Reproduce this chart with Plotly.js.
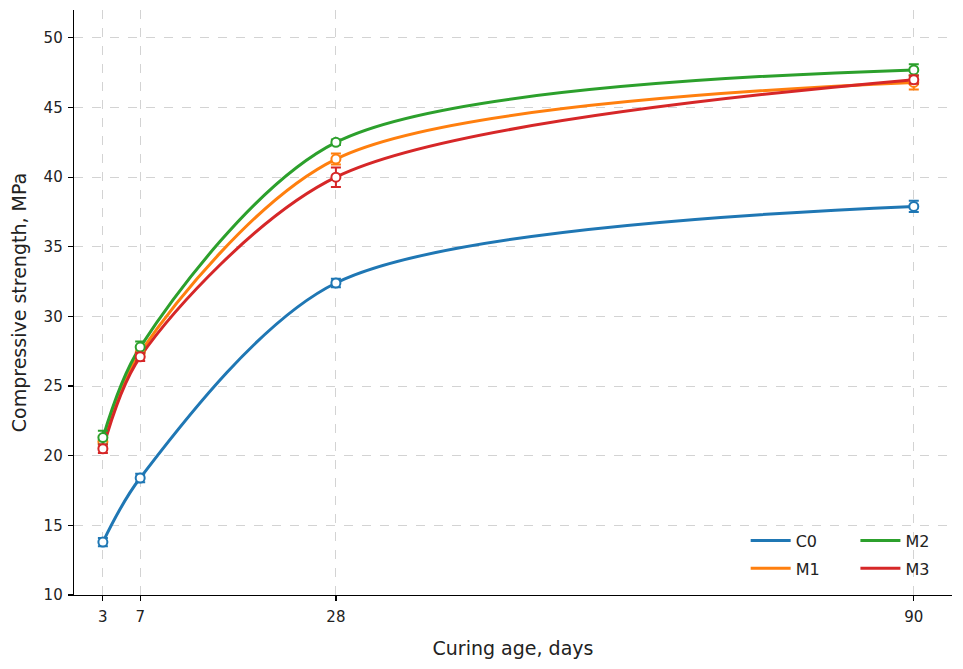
<!DOCTYPE html>
<html>
<head>
<meta charset="utf-8">
<script src="https://cdn.plot.ly/plotly-3.0.1.min.js"></script>
<style>html,body{margin:0;padding:0;background:#fff;}#chart{width:963px;height:669px;}</style>
</head>
<body>
<div id="chart"></div>
<script>
const ages = [3, 7, 28, 90];
const seriesNames = ["C0", "M1", "M2", "M3"];
const C0 = [13.8, 18.4, 32.4, 37.9];
const M1 = [21.0, 27.4, 41.3, 46.8];
const M2 = [21.3, 27.8, 42.5, 47.7];
const M3 = [20.5, 27.1, 40.0, 47.0];
const C0_err = [0.3, 0.3, 0.3, 0.4];
const M1_err = [0.4, 0.3, 0.4, 0.5];
const M2_err = [0.5, 0.4, 0.2, 0.4];
const M3_err = [0.3, 0.3, 0.7, 0.3];
const colors = ["#1f77b4", "#ff7f0e", "#2ca02c", "#d62728"];
const legendOf = ["legend", "legend", "legend2", "legend2"];

const values = [C0, M1, M2, M3];
const errs = [C0_err, M1_err, M2_err, M3_err];
const traces = [];
values.forEach((v, i) => {
  traces.push({
    x: ages, y: v, name: seriesNames[i], type: "scatter", mode: "lines",
    line: {color: colors[i], width: 3, shape: "spline", smoothing: 0.85},
    legend: legendOf[i], legendgroup: seriesNames[i], hoverinfo: "skip"
  });
});
values.forEach((v, i) => {
  traces.push({
    x: ages, y: v, type: "scatter", mode: "markers", showlegend: false,
    marker: {color: "#ffffff", size: 9, line: {color: colors[i], width: 2}},
    error_y: {type: "data", array: errs[i], visible: true, color: colors[i], thickness: 2, width: 5}
  });
});

const font = {family: "DejaVu Sans, sans-serif", color: "#222"};
const layout = {
  width: 963, height: 669,
  margin: {l: 74, r: 11, t: 10, b: 74},
  paper_bgcolor: "#fff", plot_bgcolor: "#fff",
  font: font,
  showlegend: true,
  xaxis: {
    range: [-0.1, 94.1], tickvals: ages, ticktext: ages.map(String),
    showgrid: true, gridcolor: "#d3d3d3", griddash: "dash", gridwidth: 1,
    zeroline: false, showline: true, linecolor: "#000", linewidth: 1.3,
    ticks: "outside", ticklen: 5, tickcolor: "#000", tickwidth: 1.2,
    ticklabelstandoff: 3,
    tickfont: {size: 15, family: font.family, color: "#222"},
    title: {text: "Curing age, days", font: {size: 19, family: font.family, color: "#222"}, standoff: 16}
  },
  yaxis: {
    range: [10, 52], tickvals: [10, 15, 20, 25, 30, 35, 40, 45, 50],
    showgrid: true, gridcolor: "#d3d3d3", griddash: "dash", gridwidth: 1,
    zeroline: false, showline: true, linecolor: "#000", linewidth: 1.3,
    ticks: "outside", ticklen: 5, tickcolor: "#000", tickwidth: 1.2,
    ticklabelstandoff: 2,
    tickfont: {size: 15, family: font.family, color: "#222"},
    title: {text: "Compressive strength, MPa", font: {size: 19, family: font.family, color: "#222"}, standoff: 12}
  },
  legend: {
    x: 0.765, y: 0.122, xanchor: "left", yanchor: "top",
    bgcolor: "rgba(255,255,255,0)", font: {size: 16, family: font.family, color: "#222"},
    tracegroupgap: 4, itemwidth: 40
  },
  legend2: {
    x: 0.89, y: 0.122, xanchor: "left", yanchor: "top",
    bgcolor: "rgba(255,255,255,0)", font: {size: 16, family: font.family, color: "#222"},
    tracegroupgap: 4, itemwidth: 40
  }
};
Plotly.newPlot("chart", traces, layout, {displayModeBar: false, staticPlot: true});
</script>
</body>
</html>
